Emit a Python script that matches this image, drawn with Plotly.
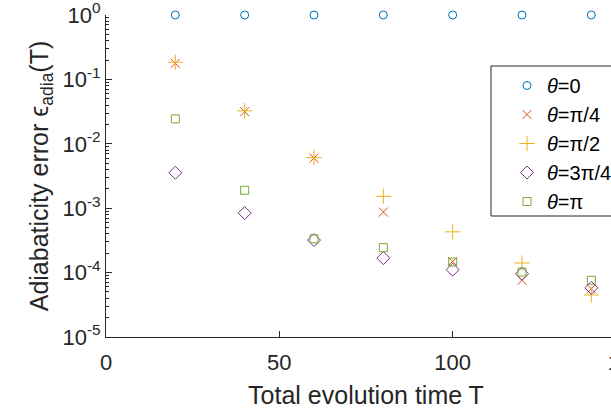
import plotly.graph_objects as go

T = [20, 40, 60, 80, 100, 120, 140]
err_theta0 = [1.0, 1.0, 1.0, 1.0, 1.0, 1.0, 1.0]
err_pi4 = [0.178, 0.0315, 0.0060, 8.7e-4, 1.49e-4, 7.6e-5, 5.6e-5]
err_pi2 = [0.185, 0.0325, 0.0061, 1.53e-3, 4.3e-4, 1.41e-4, 4.5e-5]
err_3pi4 = [3.55e-3, 8.4e-4, 3.2e-4, 1.68e-4, 1.11e-4, 9.6e-5, 5.8e-5]
err_pi = [0.0244, 1.9e-3, 3.35e-4, 2.44e-4, 1.46e-4, 1.02e-4, 7.6e-5]

names = ["<i>θ</i>=0", "<i>θ</i>=π/4", "<i>θ</i>=π/2", "<i>θ</i>=3π/4", "<i>θ</i>=π"]
series = [err_theta0, err_pi4, err_pi2, err_3pi4, err_pi]
colors = ["#0072BD", "#D95319", "#EDB120", "#7E2F8E", "#77AC30"]
symbols = ["circle-open", "x-thin-open", "cross-thin-open", "diamond-open", "square-open"]
sizes = [8, 9, 11, 10, 8]

ytick_vals = [1e-5, 1e-4, 1e-3, 1e-2, 1e-1, 1]
ytick_text = ["10<sup>-5</sup>", "10<sup>-4</sup>", "10<sup>-3</sup>", "10<sup>-2</sup>", "10<sup>-1</sup>", "10<sup>0</sup>"]
xtick_vals = [0, 50, 100, 150]

fig = go.Figure()
for nm, ys, c, s, sz in zip(names, series, colors, symbols, sizes):
    fig.add_trace(go.Scatter(
        x=T, y=ys, mode="markers", name=nm, cliponaxis=False,
        marker=dict(symbol=s, size=sz, color=c, line=dict(color=c, width=1)),
    ))

axis_color = "#262626"
W, H = 660, 409
left, top, right_edge, bottom_edge = 106, 15, 626, 337
pw, ph = right_edge - left, bottom_edge - top

def px_x(p):
    return (p - left) / pw

def px_y(p):
    return 1 - (p - top) / ph

fig.add_shape(type="rect", xref="paper", yref="paper",
              x0=px_x(491), x1=px_x(650), y0=px_y(216), y1=px_y(66),
              line=dict(color=axis_color, width=1), fillcolor="white", layer="below")

fig.update_layout(
    width=W, height=H,
    margin=dict(l=left, r=W - right_edge, t=top, b=H - bottom_edge, autoexpand=False),
    paper_bgcolor="white", plot_bgcolor="white",
    font=dict(family="Liberation Sans, Arial, sans-serif", color=axis_color, size=22),
    showlegend=True,
    legend=dict(
        x=px_x(507), y=px_y(66),
        xanchor="left", yanchor="top",
        bgcolor="rgba(0,0,0,0)", borderwidth=0,
        font=dict(size=20, color="black"),
    ),
    xaxis=dict(
        range=[0, 150], tickmode="array", tickvals=xtick_vals,
        showline=True, linecolor=axis_color, linewidth=1, mirror=False,
        ticks="inside", ticklen=6, tickcolor=axis_color,
        showgrid=False, zeroline=False,
        tickfont=dict(size=22), ticklabelstandoff=6, ticklabeloverflow="allow",
        title=dict(text="Total evolution time T", font=dict(size=25), standoff=12),
        automargin=False,
    ),
    yaxis=dict(
        type="log", range=[-5, 0.0001], tickmode="array", tickvals=ytick_vals, ticktext=ytick_text,
        showline=True, linecolor=axis_color, linewidth=1, mirror=False,
        ticks="inside", ticklen=6, tickcolor=axis_color,
        minor=dict(ticks="inside", ticklen=3, tickcolor=axis_color, dtick="D1", showgrid=False),
        showgrid=False, zeroline=False,
        tickfont=dict(size=22), ticklabeloverflow="allow",
        title=dict(text="Adiabaticity error ϵ<sub>adia</sub>(T)", font=dict(size=25), standoff=6),
        automargin=False,
    ),
)

fig.write_html("out.html", config={"displayModeBar": False},
               post_script="document.body.style.margin='0';document.body.style.overflow='hidden';")
